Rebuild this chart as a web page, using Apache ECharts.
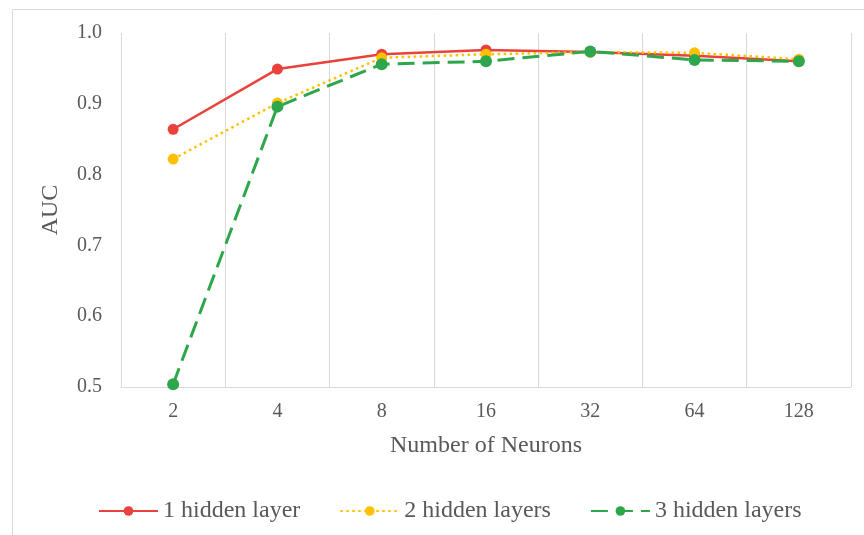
<!DOCTYPE html>
<html>
<head>
<meta charset="utf-8">
<script src="https://cdn.jsdelivr.net/npm/echarts@6/dist/echarts.min.js"></script>
<style>html,body{margin:0;padding:0;background:#fff;}#c{width:864px;height:535px;}</style>
</head>
<body>
<div id="c"></div>
<script>
var categories = ['2', '4', '8', '16', '32', '64', '128'];
var oneLayer = [0.864, 0.949, 0.970, 0.976, 0.973, 0.968, 0.960];
var twoLayers = [0.822, 0.901, 0.965, 0.970, 0.973, 0.972, 0.963];
var threeLayers = [0.504, 0.896, 0.956, 0.960, 0.974, 0.962, 0.960];
var seriesNames = ['1 hidden layer', '2 hidden layers', '3 hidden layers'];

var font = 'Liberation Serif';
var textColor = '#595959';
var chart = echarts.init(document.getElementById('c'));
chart.setOption({
  animation: false,
  backgroundColor: '#fff',
  graphic: [{
    type: 'rect',
    shape: { x: 12.5, y: 9.5, width: 900, height: 600 },
    style: { fill: 'none', stroke: '#d9d9d9', lineWidth: 1 },
    silent: true
  }],
  grid: { left: 121, right: 13, top: 33, bottom: 148 },
  legend: {
    left: 93, top: 494,
    itemWidth: 59, itemHeight: 12, itemGap: 39,
    textStyle: { fontFamily: font, fontSize: 24, color: textColor },
    data: seriesNames
  },
  xAxis: {
    type: 'category',
    data: categories,
    boundaryGap: true,
    name: 'Number of Neurons',
    nameLocation: 'middle',
    nameGap: 47,
    nameTextStyle: { fontFamily: font, fontSize: 24, color: textColor },
    axisLine: { lineStyle: { color: '#d9d9d9', width: 1 } },
    axisTick: { show: false },
    axisLabel: { fontFamily: font, fontSize: 20, color: textColor, margin: 15 },
    splitLine: { show: true, lineStyle: { color: '#d9d9d9', width: 1 } }
  },
  yAxis: {
    type: 'value',
    min: 0.5, max: 1.0, interval: 0.1,
    name: 'AUC',
    nameLocation: 'middle',
    nameGap: 58,
    nameTextStyle: { fontFamily: font, fontSize: 24, color: textColor },
    axisLine: { show: false },
    axisTick: { show: false },
    axisLabel: { fontFamily: font, fontSize: 20, color: textColor, margin: 19,
      formatter: function (v) { return v.toFixed(1); } },
    splitLine: { show: false }
  },
  series: [
    { name: seriesNames[0], type: 'line', data: oneLayer, symbol: 'circle', symbolSize: 11,
      itemStyle: { color: '#e8423a' }, lineStyle: { color: '#e8423a', width: 2.5, type: 'solid' } },
    { name: seriesNames[1], type: 'line', data: twoLayers, symbol: 'circle', symbolSize: 11,
      itemStyle: { color: '#ffc000' }, lineStyle: { color: '#ffc000', width: 2.5, type: [2.5, 3.5] } },
    { name: seriesNames[2], type: 'line', data: threeLayers, symbol: 'circle', symbolSize: 12,
      itemStyle: { color: '#2ea64c' }, lineStyle: { color: '#2ea64c', width: 3, type: [17, 8] } }
  ]
});
</script>
</body>
</html>
